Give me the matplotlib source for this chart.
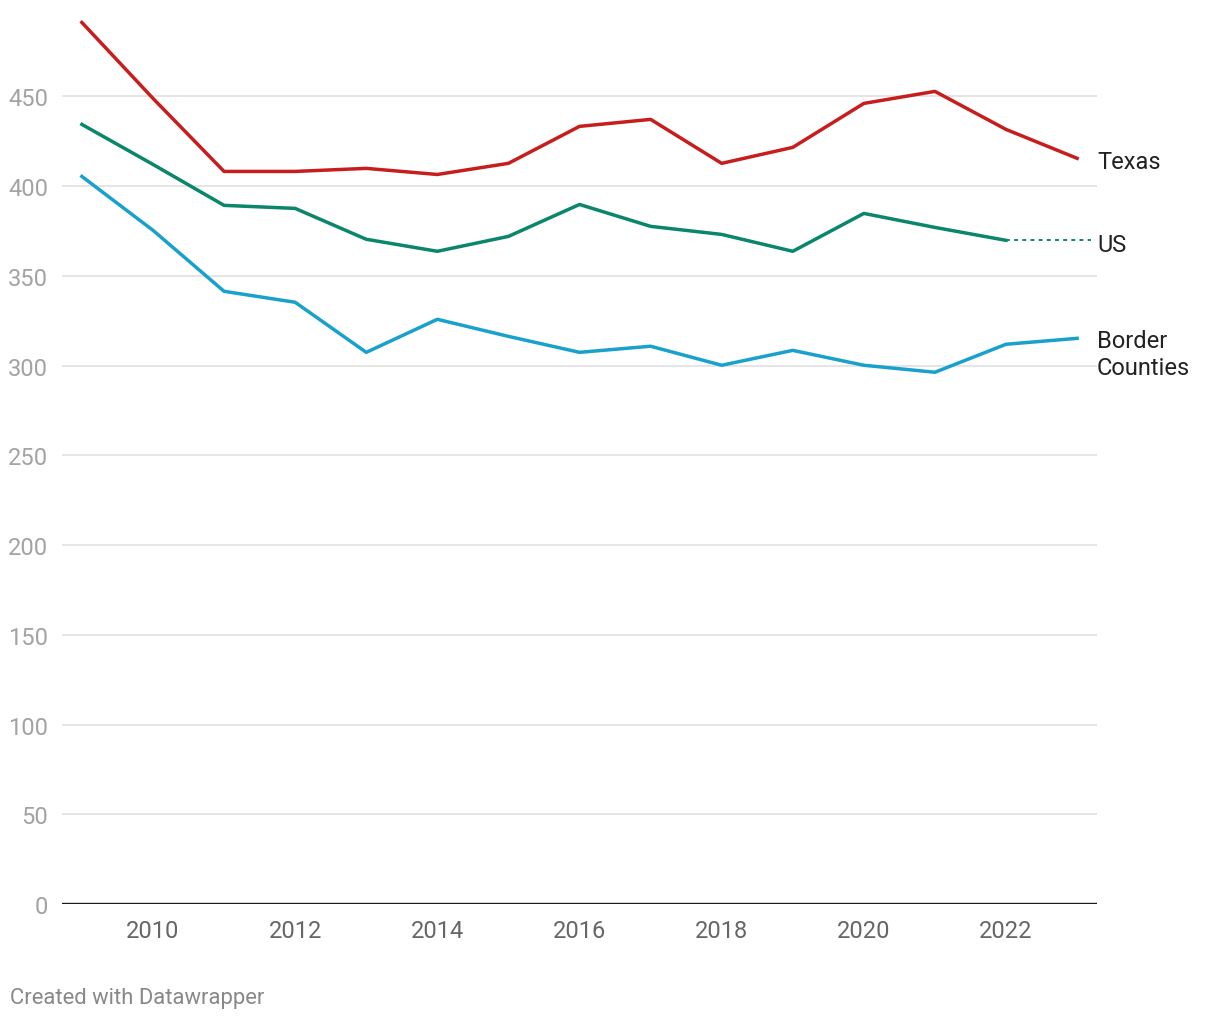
import matplotlib
matplotlib.use("Agg")
import matplotlib.pyplot as plt

plt.rcParams['font.family'] = ['Roboto', 'DejaVu Sans']

years = list(range(2009, 2024))
texas = [491.2, 448.9, 408.2, 408.2, 409.9, 406.5, 412.7, 433.3, 437.2, 412.7,
         421.6, 446.1, 452.8, 431.6, 415.5]
us_years = list(range(2009, 2023))
us = [434.4, 412.1, 389.3, 387.6, 370.4, 363.7, 372.0, 389.8, 377.6, 373.1,
      363.7, 384.8, 377.0, 369.8]
border = [405.4, 375.4, 341.4, 335.3, 307.4, 325.8, 316.3, 307.4, 310.8, 300.2,
          308.5, 300.2, 296.3, 311.9, 315.2]

red = '#c71e1d'
green = '#09866b'
blue = '#18a1cd'

fig = plt.figure(figsize=(12.2, 10.2), dpi=100)
ax = fig.add_axes([0.0508, 0.1127, 0.8484, 0.8833])

for v in range(50, 451, 50):
    ax.axhline(v, color='#e0e0e0', lw=1.2, zorder=0)
ax.axhline(0, color='#1a1a1a', lw=1.7, zorder=3)

ax.plot(years, texas, color=red, lw=2.5, solid_joinstyle='round')
ax.plot(us_years, us, color=green, lw=2.5, solid_joinstyle='round')
ax.plot([us_years[-1], 2023.2], [us[-1], us[-1]], color=green, lw=1.4, ls=(0, (2, 2.2)))
ax.plot(years, border, color=blue, lw=2.5, solid_joinstyle='round')

ax.set_xlim(2008.72, 2023.28)
ax.set_ylim(0, 502)
ax.set_yticks(range(0, 451, 50))
ax.set_xticks(range(2010, 2023, 2))
for s in ax.spines.values():
    s.set_visible(False)
ax.tick_params(axis='y', length=0, pad=10, labelsize=17, labelcolor='#a3a3a3')
ax.tick_params(axis='x', length=0, pad=11, labelsize=17, labelcolor='#666666')
for lab in ax.get_yticklabels():
    lab.set_horizontalalignment('right')

lx = 2023.28
ax.text(lx, 413.5, 'Texas', fontsize=17, color='#222222', va='center', ha='left', clip_on=False)
ax.text(lx, us[-1] - 2.5, 'US', fontsize=17, color='#222222', va='center', ha='left', clip_on=False)
ax.text(lx, 306.5, 'Border\nCounties', fontsize=17, color='#222222', va='center', ha='left',
        linespacing=1.18, clip_on=False)

fig.text(10 / 1220, 1 - 999 / 1020, 'Created with Datawrapper', fontsize=15.8, color='#888888',
         va='center', ha='left')

fig.savefig('out.png', dpi=100)
